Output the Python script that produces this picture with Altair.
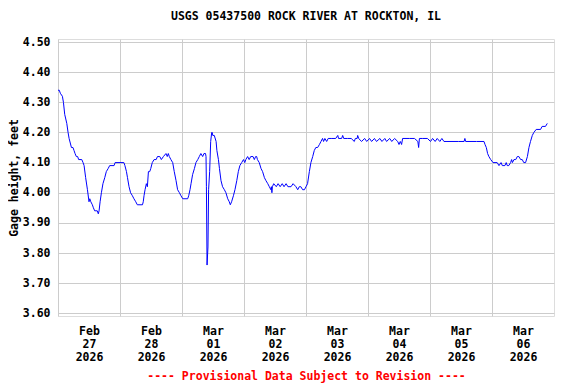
import altair as alt
import pandas as pd

# (hours since 2026-02-27 00:00, gage height in ft)
feb27 = [
    (0.0, 4.34), (0.5, 4.34), (0.9, 4.33), (1.7, 4.32), (2.1, 4.30), (2.6, 4.26),
    (3.4, 4.23), (3.9, 4.20), (4.3, 4.18), (5.2, 4.15), (5.8, 4.15), (6.2, 4.14),
    (6.6, 4.13), (7.1, 4.12), (7.6, 4.12), (8.0, 4.11), (9.2, 4.11), (9.7, 4.10),
    (10.1, 4.09), (10.7, 4.05), (11.4, 4.01), (12.0, 3.97), (12.3, 3.98), (12.7, 3.97),
    (13.3, 3.96), (13.7, 3.95), (14.2, 3.94), (15.2, 3.94), (15.6, 3.93), (15.9, 3.94),
    (16.3, 3.97), (16.8, 4.00), (17.4, 4.03), (18.1, 4.05), (18.7, 4.07), (19.4, 4.08),
    (20.0, 4.09), (21.7, 4.09), (22.1, 4.10),
]
feb28 = [
    (25.5, 4.10), (25.9, 4.09), (26.5, 4.07), (26.9, 4.05), (27.5, 4.02), (28.1, 4.00),
    (28.8, 3.99), (29.4, 3.98), (30.1, 3.97), (30.7, 3.96), (32.7, 3.96), (33.0, 3.97),
    (33.3, 3.99), (33.7, 4.01), (34.2, 4.03), (34.6, 4.02), (35.0, 4.07), (35.5, 4.07),
    (35.9, 4.08), (36.5, 4.10), (37.2, 4.11), (38.0, 4.11), (38.5, 4.12), (39.4, 4.12),
    (40.0, 4.11), (40.8, 4.12), (41.8, 4.13), (42.3, 4.12), (42.7, 4.13), (43.1, 4.12),
    (43.7, 4.11), (44.4, 4.10), (45.0, 4.07), (45.7, 4.04), (46.3, 4.01), (47.0, 4.00),
    (47.6, 3.99),
]
mar01 = [
    (48.3, 3.98), (50.2, 3.98), (50.6, 3.99), (51.1, 4.01), (51.5, 4.03), (52.1, 4.06),
    (52.8, 4.08), (53.4, 4.10), (54.1, 4.11), (54.7, 4.12), (55.3, 4.13), (56.0, 4.12),
    (56.5, 4.13), (57.1, 4.13), (57.3, 4.12), (57.45, 4.02), (57.7, 3.76), (58.05, 3.82),
    (58.3, 4.01), (58.7, 4.07), (59.1, 4.17), (59.5, 4.20), (59.7, 4.20), (59.9, 4.19),
    (60.5, 4.19), (61.2, 4.17), (61.5, 4.14), (62.1, 4.11), (62.5, 4.08), (63.1, 4.04),
    (63.7, 4.02), (64.4, 4.01), (65.0, 4.00), (65.7, 3.98), (66.3, 3.97), (66.7, 3.96),
    (67.2, 3.97), (67.9, 3.99), (68.5, 4.01), (69.2, 4.04), (69.8, 4.07), (70.4, 4.09),
    (71.1, 4.10), (71.8, 4.11),
]
mar02 = [
    (72.3, 4.10), (72.7, 4.11), (73.4, 4.12), (74.0, 4.11), (74.6, 4.12), (75.5, 4.12),
    (76.0, 4.11), (76.5, 4.12), (76.9, 4.12), (77.2, 4.11), (77.9, 4.10), (78.6, 4.08),
    (79.2, 4.07), (79.9, 4.05), (80.5, 4.04), (81.2, 4.03), (81.8, 4.02), (82.4, 4.01),
    (82.6, 4.02), (82.8, 4.00), (83.0, 4.02), (83.5, 4.03), (84.5, 4.02), (85.2, 4.03),
    (86.0, 4.02), (86.8, 4.03), (87.5, 4.02), (88.3, 4.03), (89.0, 4.02), (90.2, 4.02),
    (91.0, 4.03), (92.1, 4.02), (92.8, 4.01), (93.4, 4.02), (94.0, 4.02), (94.7, 4.01),
    (95.4, 4.01),
]
mar03 = [
    (96.0, 4.02), (96.6, 4.03), (97.3, 4.07), (97.9, 4.10), (98.6, 4.12), (99.2, 4.14),
    (99.8, 4.15), (100.5, 4.15), (101.2, 4.16), (101.8, 4.17), (102.4, 4.18), (102.8, 4.17),
    (103.3, 4.18), (104.0, 4.17), (104.6, 4.18), (106.0, 4.18), (107.5, 4.18), (108.3, 4.19),
    (108.6, 4.18), (109.8, 4.18), (110.2, 4.19), (110.6, 4.18), (112.0, 4.18), (113.5, 4.18),
    (114.7, 4.17), (115.1, 4.18), (115.8, 4.18), (116.0, 4.19), (116.4, 4.18), (117.5, 4.17),
    (118.7, 4.18), (119.5, 4.17),
]
mar04 = [
    (120.6, 4.18), (121.4, 4.17), (122.5, 4.18), (123.3, 4.17), (124.6, 4.18), (125.4, 4.17),
    (126.5, 4.18), (127.2, 4.17), (128.4, 4.18), (129.2, 4.17), (130.3, 4.18), (131.5, 4.17),
    (132.0, 4.16), (132.5, 4.17), (133.0, 4.16), (133.4, 4.18), (136.0, 4.18), (138.0, 4.18),
    (139.3, 4.17), (139.6, 4.15), (139.9, 4.18), (141.0, 4.18), (143.0, 4.18),
]
mar05 = [
    (144.2, 4.17), (145.0, 4.18), (146.0, 4.17), (146.8, 4.18), (147.8, 4.17), (148.6, 4.18),
    (149.4, 4.17), (150.2, 4.17), (155.0, 4.17), (157.2, 4.17), (157.5, 4.18), (157.8, 4.17),
    (162.0, 4.17), (164.9, 4.17), (165.3, 4.16), (165.8, 4.15), (166.3, 4.13), (166.8, 4.12),
    (167.5, 4.11),
]
mar06 = [
    (168.4, 4.10), (170.0, 4.10), (170.7, 4.09), (171.5, 4.10), (172.0, 4.09), (173.0, 4.09),
    (173.5, 4.10), (173.9, 4.09), (174.5, 4.09), (175.2, 4.10), (175.6, 4.11), (175.9, 4.10),
    (176.5, 4.11), (177.2, 4.11), (177.8, 4.12), (178.4, 4.12), (179.1, 4.11), (179.7, 4.11),
    (180.3, 4.10), (181.0, 4.10), (181.7, 4.12), (182.3, 4.15), (182.9, 4.17), (183.6, 4.19),
    (184.2, 4.20), (185.1, 4.21), (186.8, 4.21), (187.4, 4.22), (188.7, 4.22), (189.4, 4.23),
]

day_ticks = [0, 24, 48, 72, 96, 120, 144, 168]
day_labels = [
    ["Feb", "27", "2026"], ["Feb", "28", "2026"], ["Mar", "01", "2026"],
    ["Mar", "02", "2026"], ["Mar", "03", "2026"], ["Mar", "04", "2026"],
    ["Mar", "05", "2026"], ["Mar", "06", "2026"],
]
y_ticks = [3.6, 3.7, 3.8, 3.9, 4.0, 4.1, 4.2, 4.3, 4.4, 4.5]

readings = feb27 + feb28 + mar01 + mar02 + mar03 + mar04 + mar05 + mar06
df = pd.DataFrame(readings, columns=["hours", "gage"])

FONT = "DejaVu Sans Mono"
label_js = "[" + ",".join("[" + ",".join(f"'{s}'" for s in d) + "]" for d in day_labels) + "]"

chart = (
    alt.Chart(df)
    .mark_line(color="#0000ff", strokeWidth=1, clip=True)
    .encode(
        x=alt.X(
            "hours:Q",
            scale=alt.Scale(domain=[0, 192], nice=False, zero=False),
            axis=alt.Axis(
                values=day_ticks,
                labelExpr=label_js + "[round(datum.value/24)]",
                labelOffset=31,
                labelFlush=False,
                labelOverlap=False,
                labelFont=FONT,
                labelFontSize=11.5,
                labelFontWeight="bold",
                labelColor="black",
                labelBaseline="top",
                labelLineHeight=13,
                labelPadding=9,
                ticks=False,
                domain=False,
                gridColor="#cccccc",
                gridWidth=1,
                title="---- Provisional Data Subject to Revision ----",
                titleColor="#ff0000",
                titleFont=FONT,
                titleFontSize=11.5,
                titleFontWeight="bold",
                titlePadding=8,
            ),
        ),
        y=alt.Y(
            "gage:Q",
            scale=alt.Scale(domain=[3.591, 4.51], nice=False, zero=False),
            axis=alt.Axis(
                values=y_ticks,
                format=".2f",
                labelFont=FONT,
                labelFontSize=11.5,
                labelFontWeight="bold",
                labelColor="black",
                labelPadding=8,
                ticks=False,
                domain=False,
                gridColor="#cccccc",
                gridWidth=1,
                title="Gage height, feet",
                titleFont=FONT,
                titleFontSize=11.5,
                titleFontWeight="bold",
                titleColor="black",
                titlePadding=3,
            ),
        ),
    )
    .properties(
        width=496,
        height=277,
        title=alt.TitleParams(
            text="USGS 05437500 ROCK RIVER AT ROCKTON, IL",
            font=FONT,
            fontSize=11.5,
            fontWeight="bold",
            color="black",
            anchor="middle",
            frame="group",
            offset=14,
        ),
        autosize=alt.AutoSizeParams(type="none"),
        padding={"left": 50, "top": 31, "right": 14, "bottom": 68},
    )
    .configure_view(stroke="black", strokeWidth=1.5)
    .configure(background="white")
)

chart.save("out.html", embed_options={"renderer": "svg", "actions": False})
